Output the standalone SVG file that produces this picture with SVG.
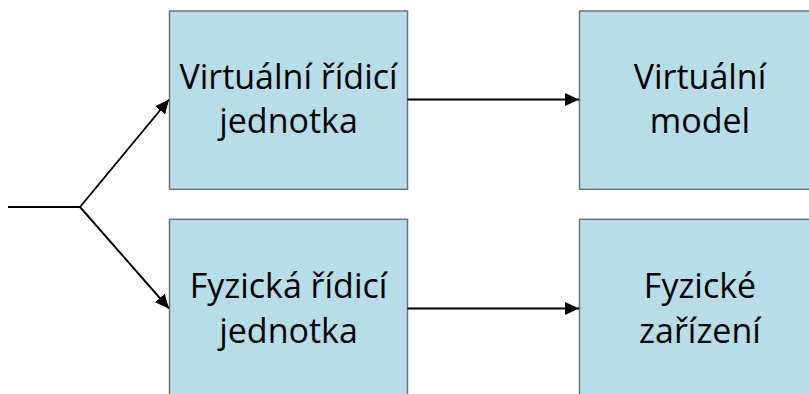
<svg xmlns="http://www.w3.org/2000/svg" width="809" height="394" viewBox="0 0 809 394">
<style>
.box{fill:#b7dde8;stroke:#6b777c;stroke-width:1.5}
.lbl{font-family:"Open Sans","Noto Sans",sans-serif;font-size:34px;fill:#000;text-anchor:middle}
.conn{stroke:#000;stroke-width:1.9;fill:none}
</style>
<defs>
<marker id="ah" markerUnits="userSpaceOnUse" markerWidth="15" markerHeight="13" refX="14" refY="6.5" orient="auto">
<path d="M0,0 L14,6.5 L0,13 z" fill="#000"/>
</marker>
</defs>
<rect width="809" height="394" fill="#fff"/>
<g id="virt-ctrl">
<rect class="box" x="169.5" y="11" width="238" height="178.3"/>
<text class="lbl" x="288.5" y="89">Virtuální řídicí</text>
<text class="lbl" x="288.5" y="133">jednotka</text>
</g>
<g id="virt-model">
<rect class="box" x="579.5" y="11" width="245" height="178.3"/>
<text class="lbl" x="700" y="89">Virtuální</text>
<text class="lbl" x="700" y="133">model</text>
</g>
<g id="phys-ctrl">
<rect class="box" x="169.5" y="219.3" width="238" height="200"/>
<text class="lbl" x="288.5" y="298">Fyzická řídicí</text>
<text class="lbl" x="288.5" y="343">jednotka</text>
</g>
<g id="phys-dev">
<rect class="box" x="579.5" y="219.3" width="245" height="200"/>
<text class="lbl" x="700" y="298">Fyzické</text>
<text class="lbl" x="700" y="343">zařízení</text>
</g>
<g id="connectors">
<path class="conn" d="M8,207 L80,207"/>
<path class="conn" d="M80,207 L169,99.5" marker-end="url(#ah)"/>
<path class="conn" d="M80,207 L169,308.5" marker-end="url(#ah)"/>
<path class="conn" d="M407.5,99.5 L579,99.5" marker-end="url(#ah)"/>
<path class="conn" d="M407.5,308.5 L579,308.5" marker-end="url(#ah)"/>
</g>
</svg>
